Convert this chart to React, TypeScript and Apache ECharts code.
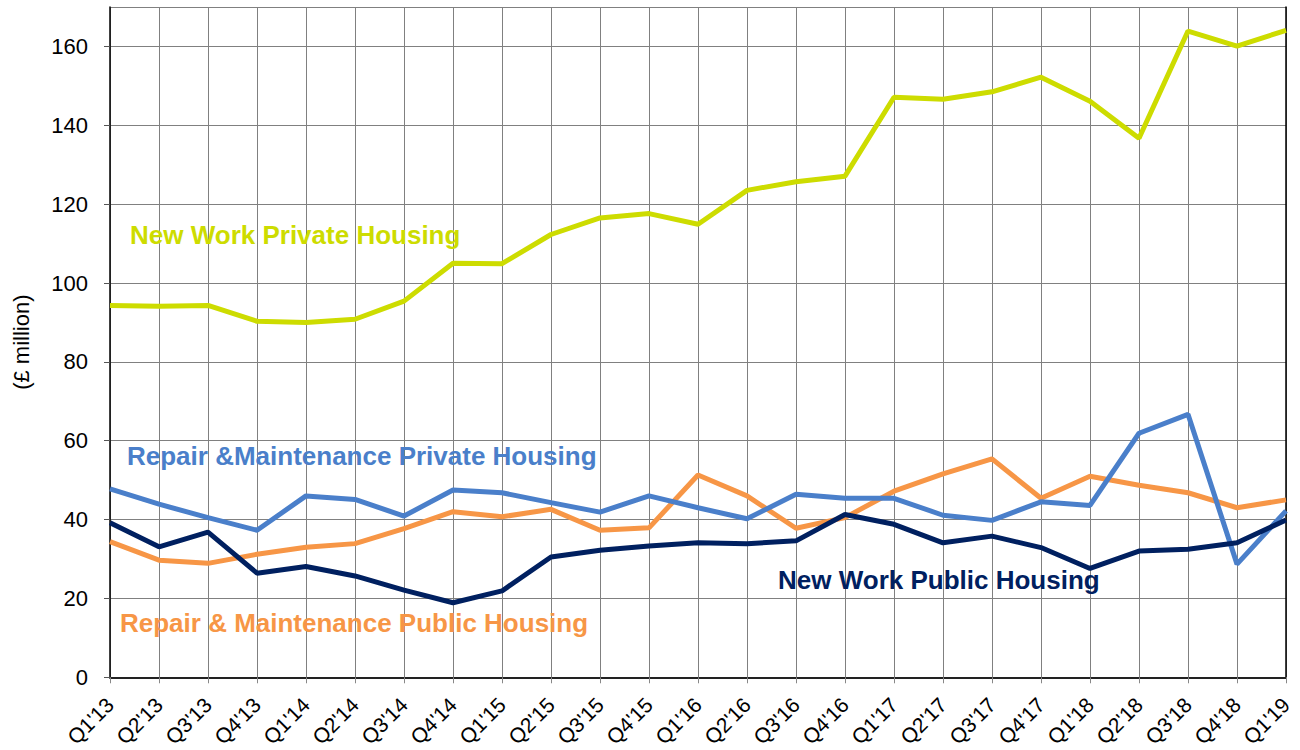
import React, { useEffect, useRef } from "react";
import * as echarts from "echarts";

const categories = [
  "Q1'13", "Q2'13", "Q3'13", "Q4'13", "Q1'14", "Q2'14", "Q3'14", "Q4'14",
  "Q1'15", "Q2'15", "Q3'15", "Q4'15", "Q1'16", "Q2'16", "Q3'16", "Q4'16",
  "Q1'17", "Q2'17", "Q3'17", "Q4'17", "Q1'18", "Q2'18", "Q3'18", "Q4'18", "Q1'19",
];

const newWorkPrivate = [
  94.3, 94.1, 94.3, 90.3, 90.0, 90.8, 95.4, 105.0, 104.9, 112.3, 116.5, 117.6,
  114.9, 123.5, 125.7, 127.1, 147.1, 146.6, 148.5, 152.2, 146.1, 136.7, 163.9, 160.1, 164.1,
];

const repairPrivate = [
  47.8, 43.9, 40.5, 37.3, 46.0, 45.1, 40.9, 47.5, 46.8, 44.3, 41.9, 46.0,
  43.0, 40.2, 46.4, 45.4, 45.4, 41.1, 39.8, 44.5, 43.6, 61.9, 66.7, 28.7, 42.2,
];

const repairPublic = [
  34.4, 29.7, 28.9, 31.2, 33.0, 33.9, 37.7, 42.0, 40.7, 42.6, 37.3, 37.9,
  51.3, 46.0, 37.8, 40.5, 47.2, 51.6, 55.4, 45.4, 51.0, 48.7, 46.8, 43.0, 45.0,
];

const newWorkPublic = [
  39.2, 33.1, 36.8, 26.4, 28.1, 25.7, 22.1, 18.9, 21.9, 30.5, 32.2, 33.3,
  34.1, 33.9, 34.6, 41.3, 38.8, 34.1, 35.8, 32.9, 27.6, 32.0, 32.5, 34.1, 39.9,
];

const C_YELLOW = "#CDDC00";
const C_BLUE = "#4A7FCA";
const C_ORANGE = "#F79646";
const C_NAVY = "#002060";
const FONT = "Liberation Sans, Arial, sans-serif";

export default function App() {
  const ref = useRef<HTMLDivElement>(null);

  useEffect(() => {
    document.body.style.margin = "0";
    const chart = echarts.init(ref.current!, null, { renderer: "svg" });
    const lineSeries = (name: string, data: number[], color: string) => ({
      name,
      type: "line",
      data,
      symbol: "none",
      lineStyle: { color, width: 5 },
      itemStyle: { color },
      z: 3,
    });
    const label = (text: string, left: number, top: number, color: string) => ({
      type: "text",
      left,
      top,
      style: {
        text,
        fill: color,
        font: `bold 26px ${FONT}`,
      },
      z: 10,
    });
    chart.setOption({
      animation: false,
      backgroundColor: "#ffffff",
      grid: { left: 110, right: 14, top: 7, bottom: 72, containLabel: false },
      xAxis: [
        {
          type: "category",
          data: categories,
          boundaryGap: false,
          axisLine: { show: true, lineStyle: { color: "#888888", width: 2 } },
          axisTick: { show: true, inside: false, length: 6, lineStyle: { color: "#888888" } },
          axisLabel: {
            rotate: 45,
            interval: 0,
            fontSize: 21,
            fontFamily: FONT,
            color: "#000000",
            margin: 24,
          },
          splitLine: { show: true, lineStyle: { color: "#808080", width: 1 } },
        },
        {
          type: "category",
          data: categories,
          boundaryGap: false,
          position: "top",
          axisLine: { show: true, lineStyle: { color: "#000000", width: 1.5 } },
          axisTick: { show: false },
          axisLabel: { show: false },
          splitLine: { show: false },
        },
      ],
      yAxis: [
        {
          type: "value",
          min: 0,
          max: 170,
          interval: 20,
          name: "(£ million)",
          nameLocation: "middle",
          nameGap: 78,
          nameRotate: 90,
          nameTextStyle: { fontSize: 22, fontFamily: FONT, color: "#000000" },
          axisLine: { show: true, lineStyle: { color: "#000000", width: 1.5 } },
          axisTick: { show: true, inside: false, length: 6, lineStyle: { color: "#555555" } },
          axisLabel: {
            fontSize: 22,
            fontFamily: FONT,
            color: "#000000",
            margin: 22,
            showMaxLabel: false,
          },
          splitLine: { show: true, lineStyle: { color: "#808080", width: 1 } },
        },
        {
          type: "value",
          min: 0,
          max: 170,
          interval: 20,
          position: "right",
          axisLine: { show: true, lineStyle: { color: "#000000", width: 1.5 } },
          axisTick: { show: false },
          axisLabel: { show: false },
          splitLine: { show: false },
        },
      ],
      series: [
        lineSeries("New Work Private Housing", newWorkPrivate, C_YELLOW),
        lineSeries("Repair & Maintenance Public Housing", repairPublic, C_ORANGE),
        lineSeries("Repair &Maintenance Private Housing", repairPrivate, C_BLUE),
        lineSeries("New Work Public Housing", newWorkPublic, C_NAVY),
      ],
      graphic: [
        label("New Work Private Housing", 130, 222, C_YELLOW),
        label("Repair &Maintenance Private Housing", 127, 443, C_BLUE),
        label("Repair & Maintenance Public Housing", 120, 610, C_ORANGE),
        label("New Work Public Housing", 778, 567, C_NAVY),
      ],
    });
    return () => chart.dispose();
  }, []);

  return (
    <div
      ref={ref}
      style={{ position: "absolute", left: 0, top: 0, width: 1300, height: 750 }}
    />
  );
}
